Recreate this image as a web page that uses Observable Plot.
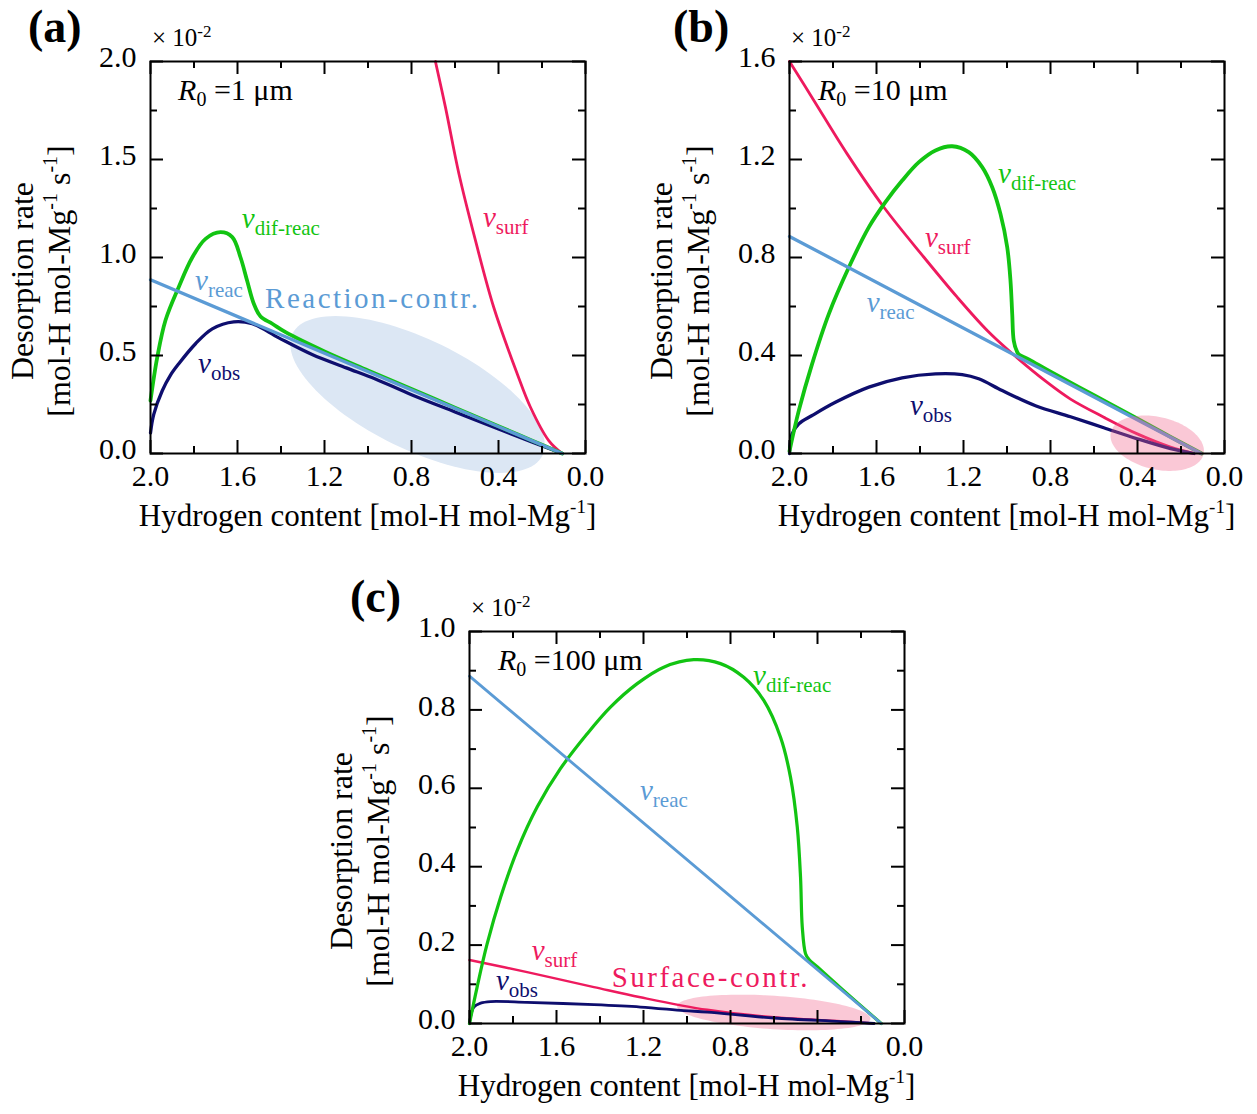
<!DOCTYPE html>
<html>
<head>
<meta charset="utf-8">
<script src="https://cdn.jsdelivr.net/npm/d3@7"></script>
<script src="https://cdn.jsdelivr.net/npm/@observablehq/plot@0.6"></script>
<style>
  body { margin: 0; background: #fff; }
  #wrap { position: relative; width: 1257px; height: 1114px; overflow: hidden; background: #fff; }
  .panel { position: absolute; }
</style>
</head>
<body>
<div id="wrap"></div>
<script>
// ---------------- DATA ----------------
// x: hydrogen content [mol-H/mol-Mg], y: desorption rate [x10^-2 mol-H/mol-Mg/s]
const xTicks = [2.0, 1.6, 1.2, 0.8, 0.4, 0.0];
const xMinor = [1.8, 1.4, 1.0, 0.6, 0.2];

// v_reac (same in all panels)
const reacX = [2.0, 0.107];
const reacY = [0.886, 0.0];

// Panel (a) R0 = 1 um
const aDifX = [2.0, 1.969, 1.931, 1.870, 1.808, 1.747, 1.678, 1.624, 1.586, 1.556, 1.525, 1.494, 1.440, 1.379, 1.2, 1.0, 0.8, 0.6, 0.4, 0.25, 0.107];
const aDifY = [0.27, 0.49, 0.68, 0.85, 1.00, 1.095, 1.129, 1.104, 1.00, 0.883, 0.764, 0.699, 0.662, 0.619, 0.521, 0.424, 0.329, 0.234, 0.139, 0.068, 0.0];
const aObsX = [2.0, 1.985, 1.946, 1.908, 1.870, 1.793, 1.716, 1.617, 1.532, 1.410, 1.257, 1.10, 0.966, 0.8, 0.6, 0.4, 0.25, 0.107];
const aObsY = [0.105, 0.20, 0.32, 0.40, 0.458, 0.56, 0.636, 0.672, 0.662, 0.590, 0.505, 0.437, 0.38, 0.30, 0.212, 0.125, 0.060, 0.0];
const aSurfX = [0.690, 0.644, 0.582, 0.506, 0.422, 0.314, 0.253, 0.169, 0.107];
const aSurfY = [2.0, 1.767, 1.427, 1.087, 0.746, 0.407, 0.236, 0.066, 0.0];
const aYTicks = [0.0, 0.5, 1.0, 1.5, 2.0];
const aYMinor = [0.25, 0.75, 1.25, 1.75];

// Panel (b) R0 = 10 um
const bDifX = [2.0, 1.957, 1.896, 1.819, 1.727, 1.635, 1.559, 1.482, 1.405, 1.329, 1.252, 1.176, 1.114, 1.068, 1.030, 0.999, 0.984, 0.976, 0.969, 0.955, 0.946, 0.9, 0.8, 0.6, 0.4, 0.25, 0.105];
const bDifY = [0.01, 0.176, 0.366, 0.570, 0.760, 0.924, 1.026, 1.114, 1.189, 1.237, 1.254, 1.230, 1.169, 1.087, 0.978, 0.842, 0.706, 0.570, 0.461, 0.418, 0.405, 0.384, 0.334, 0.238, 0.142, 0.069, 0.0];
const bObsX = [2.0, 1.988, 1.957, 1.896, 1.789, 1.635, 1.482, 1.329, 1.206, 1.130, 1.022, 0.869, 0.708, 0.555, 0.401, 0.248, 0.14];
const bObsY = [0.0, 0.080, 0.121, 0.155, 0.209, 0.271, 0.309, 0.325, 0.322, 0.305, 0.257, 0.195, 0.150, 0.105, 0.060, 0.020, 0.0];
const bSurfX = [2.0, 1.888, 1.735, 1.566, 1.382, 1.229, 1.091, 0.984, 0.815, 0.708, 0.555, 0.401, 0.248, 0.14];
const bSurfY = [1.60, 1.441, 1.223, 1.005, 0.801, 0.638, 0.502, 0.414, 0.290, 0.222, 0.148, 0.080, 0.026, 0.0];
const bYTicks = [0.0, 0.4, 0.8, 1.2, 1.6];
const bYMinor = [0.2, 0.6, 1.0, 1.4];

// Panel (c) R0 = 100 um
const cDifX = [2.0, 1.965, 1.919, 1.857, 1.781, 1.689, 1.582, 1.459, 1.352, 1.229, 1.107, 0.969, 0.846, 0.739, 0.647, 0.570, 0.524, 0.493, 0.478, 0.470, 0.455, 0.440, 0.40, 0.3, 0.107];
const cDifY = [0.0, 0.093, 0.203, 0.322, 0.441, 0.552, 0.650, 0.739, 0.807, 0.867, 0.909, 0.928, 0.918, 0.883, 0.824, 0.730, 0.628, 0.501, 0.373, 0.246, 0.178, 0.164, 0.144, 0.094, 0.0];
const cObsX = [2.0, 1.980, 1.949, 1.903, 1.735, 1.428, 1.214, 1.015, 0.907, 0.601, 0.294, 0.14];
const cObsY = [0.0, 0.042, 0.052, 0.056, 0.054, 0.048, 0.042, 0.033, 0.029, 0.014, 0.005, 0.0];
const cSurfX = [2.0, 1.735, 1.428, 1.214, 0.907, 0.601, 0.294, 0.14];
const cSurfY = [0.162, 0.131, 0.093, 0.067, 0.035, 0.016, 0.006, 0.0];
const cYTicks = [0.0, 0.2, 0.4, 0.6, 0.8, 1.0];
const cYMinor = [0.1, 0.3, 0.5, 0.7, 0.9];

// Highlight ellipses in data units: [centerX, centerY, semiAxis1 dX, dY, semiAxis2 dX, dY]
const ellipseA = [0.7724, 0.301, -0.5744, -0.3109, 0.1109, -0.2522];
const ellipseB = [0.3094, 0.042, -0.2131, -0.0444, 0.0275, -0.1041];
const ellipseC = [0.601, 0.0281, -0.4446, -0.0162, 0.0050, -0.0425];

// Curve labels (data position of the italic v, baseline)
const labelsA = [
  {key: "dif", x: 1.578, y: 1.148, sub: "dif-reac"},
  {key: "reac", x: 1.793, y: 0.832, sub: "reac"},
  {key: "obs", x: 1.779, y: 0.408, sub: "obs"},
  {key: "surf", x: 0.469, y: 1.153, sub: "surf"}
];
const labelsB = [
  {key: "dif", x: 1.039, y: 1.102, sub: "dif-reac"},
  {key: "surf", x: 1.375, y: 0.841, sub: "surf"},
  {key: "reac", x: 1.643, y: 0.576, sub: "reac"},
  {key: "obs", x: 1.444, y: 0.155, sub: "obs"}
];
const labelsC = [
  {key: "dif", x: 0.694, y: 0.862, sub: "dif-reac"},
  {key: "reac", x: 1.214, y: 0.569, sub: "reac"},
  {key: "surf", x: 1.712, y: 0.161, sub: "surf"},
  {key: "obs", x: 1.876, y: 0.084, sub: "obs"}
];
const radiusLabels = [
  {x: 1.871, y: 1.80, text: " =1 μm"},
  {x: 1.867, y: 1.441, text: " =10 μm"},
  {x: 1.867, y: 0.90, text: " =100 μm"}
];
const regimeA = {x: 1.471, y: 0.74, text: "Reaction-contr.", key: "reac"};
const regimeC = {x: 1.344, y: 0.093, text: "Surface-contr.", key: "surf"};

// ---------------- STYLE ----------------
const FONT = '"Liberation Serif", "Times New Roman", Times, serif';
const COLORS = {dif: "#12c412", obs: "#0e0e6e", reac: "#5b9bd5", surf: "#ee1a5e"};
const WIDTHS = {dif: 3.8, obs: 3.3, reac: 3.3, surf: 2.8};

const rows = (xs, ys) => xs.map((x, i) => ({x, y: ys[i]}));
function ellipsePts(e) {
  return d3.range(0, 361, 3).map(t => {
    const r = t * Math.PI / 180;
    return {x: e[0] + Math.cos(r) * e[2] + Math.sin(r) * e[4],
            y: e[1] + Math.cos(r) * e[3] + Math.sin(r) * e[5]};
  });
}

function drawPanel(cfg) {
  const fw = 435, fh = 392;
  const W = cfg.width, H = cfg.height, mL = cfg.mL, mT = 61;
  const mR = W - mL - fw, mB = H - mT - fh;
  const ell = Plot.line(ellipsePts(cfg.ellipse), {x: "x", y: "y", curve: "linear", stroke: "none",
    fill: cfg.ellipseFill, fillOpacity: cfg.ellipseOpacity});
  const line = (xs, ys, key, curve = "catmull-rom") =>
    Plot.line(rows(xs, ys), {x: "x", y: "y", curve, stroke: COLORS[key], strokeWidth: WIDTHS[key] * (cfg.lw || 1)});
  const marks = [];
  if (!cfg.ellipseOver) marks.push(ell);
  marks.push(line(cfg.surf[0], cfg.surf[1], "surf"));
  marks.push(line(cfg.obs[0], cfg.obs[1], "obs"));
  marks.push(line(cfg.dif[0], cfg.dif[1], "dif"));
  marks.push(line(reacX, reacY, "reac", "linear"));
  if (cfg.ellipseOver) marks.push(ell);
  const tk = {stroke: "black", strokeWidth: 2};
  marks.push(
    Plot.frame({stroke: "black", strokeWidth: 2}),
    Plot.tickX(xTicks, {x: d => d, insetTop: fh - 13, ...tk}),
    Plot.tickX(xTicks, {x: d => d, insetBottom: fh - 13, ...tk}),
    Plot.tickX(xMinor, {x: d => d, insetTop: fh - 7, ...tk}),
    Plot.tickX(xMinor, {x: d => d, insetBottom: fh - 7, ...tk}),
    Plot.tickY(cfg.yTicks, {y: d => d, insetRight: fw - 13, ...tk}),
    Plot.tickY(cfg.yTicks, {y: d => d, insetLeft: fw - 13, ...tk}),
    Plot.tickY(cfg.yMinor, {y: d => d, insetRight: fw - 7, ...tk}),
    Plot.tickY(cfg.yMinor, {y: d => d, insetLeft: fw - 7, ...tk}),
    Plot.axisX({ticks: xTicks, tickSize: 0, tickPadding: 11, tickFormat: d3.format(".1f"), fontSize: 30, label: null, fill: "black"}),
    Plot.axisY({ticks: cfg.yTicks, tickSize: 0, tickPadding: 14, dy: -4, tickFormat: d3.format(".1f"), fontSize: 30, label: null, fill: "black"})
  );
  const svg = Plot.plot({
    width: W, height: H, marginLeft: mL, marginRight: mR, marginTop: mT, marginBottom: mB,
    x: {domain: [2.0, 0.0]},
    y: {domain: cfg.yDomain},
    style: {fontFamily: FONT, fontSize: "30px", background: "transparent", overflow: "visible", color: "black"},
    marks
  });
  const sx = svg.scale("x"), sy = svg.scale("y");
  const g = d3.select(svg).append("g").attr("font-family", FONT).attr("text-anchor", "start");

  // curve labels
  for (const L of cfg.labels) {
    const t = g.append("text").attr("x", sx.apply(L.x)).attr("y", sy.apply(L.y))
      .attr("fill", COLORS[L.key]).attr("font-size", 29).attr("text-anchor", "start");
    t.append("tspan").attr("font-style", "italic").text("v");
    t.append("tspan").attr("font-size", 21).attr("dy", 7).text(L.sub);
  }
  // R0 label
  const R = cfg.radius;
  const rt = g.append("text").attr("x", sx.apply(R.x)).attr("y", sy.apply(R.y)).attr("fill", "black")
    .attr("font-size", 30).attr("text-anchor", "start");
  rt.append("tspan").attr("font-style", "italic").text("R");
  rt.append("tspan").attr("font-size", 20).attr("dy", 6).text("0");
  rt.append("tspan").attr("dy", -6).text(R.text);
  // regime label
  if (cfg.regime) {
    g.append("text").attr("x", sx.apply(cfg.regime.x)).attr("y", sy.apply(cfg.regime.y))
      .attr("fill", COLORS[cfg.regime.key]).attr("font-size", 29).attr("letter-spacing", 2.5)
      .attr("text-anchor", "start").text(cfg.regime.text);
  }
  // multiplier
  const m = g.append("text").attr("x", mL + 2).attr("y", mT - 15).attr("font-size", 25)
    .attr("fill", "black").attr("text-anchor", "start");
  m.append("tspan").text("× 10");
  m.append("tspan").attr("font-size", 17).attr("dy", -9).text("-2");
  // panel letter
  g.append("text").attr("x", cfg.letterX).attr("y", 42).attr("font-size", 46).attr("font-weight", "bold")
    .attr("fill", "black").attr("text-anchor", "start").text(cfg.letter);
  // x title
  const xt = g.append("text").attr("x", mL + fw / 2).attr("y", mT + fh + 73).attr("text-anchor", "middle")
    .attr("font-size", 31).attr("fill", "black");
  xt.append("tspan").text("Hydrogen content [mol-H mol-Mg");
  xt.append("tspan").attr("font-size", 19).attr("dy", -13).text("-1");
  xt.append("tspan").attr("dy", 13).text("]");
  // y title (two lines)
  const yc = mT + fh / 2 + 24;
  g.append("text").attr("transform", `translate(${mL - 117},${yc}) rotate(-90)`).attr("text-anchor", "middle")
    .attr("font-size", 32).attr("fill", "black").text("Desorption rate");
  const y2 = g.append("text").attr("transform", `translate(${mL - 80},${yc}) rotate(-90)`).attr("text-anchor", "middle")
    .attr("font-size", 32).attr("fill", "black");
  y2.append("tspan").text("[mol-H mol-Mg");
  y2.append("tspan").attr("font-size", 20).attr("dy", -13).text("-1");
  y2.append("tspan").attr("dy", 13).text(" s");
  y2.append("tspan").attr("font-size", 20).attr("dy", -13).text("-1");
  y2.append("tspan").attr("dy", 13).text("]");

  const div = document.createElement("div");
  div.className = "panel";
  div.style.left = cfg.left + "px";
  div.style.top = cfg.top + "px";
  div.appendChild(svg);
  document.getElementById("wrap").appendChild(div);
}

drawPanel({
  left: 0, top: 0, width: 620, height: 545, mL: 150, letter: "(a)", letterX: 28,
  yDomain: [0, 2.0], yTicks: aYTicks, yMinor: aYMinor,
  dif: [aDifX, aDifY], obs: [aObsX, aObsY], surf: [aSurfX, aSurfY],
  ellipse: ellipseA, ellipseFill: "#dce7f4", ellipseOpacity: 1, ellipseOver: false,
  labels: labelsA, radius: radiusLabels[0], regime: regimeA
});
drawPanel({
  left: 640, top: 0, width: 617, height: 545, mL: 149, letter: "(b)", letterX: 33,
  yDomain: [0, 1.6], yTicks: bYTicks, yMinor: bYMinor,
  dif: [bDifX, bDifY], obs: [bObsX, bObsY], surf: [bSurfX, bSurfY],
  ellipse: ellipseB, ellipseFill: "rgb(240,100,140)", ellipseOpacity: 0.355, ellipseOver: true,
  labels: labelsB, radius: radiusLabels[1]
});
drawPanel({
  left: 320, top: 570, width: 620, height: 544, mL: 149, letter: "(c)", letterX: 30, lw: 0.85,
  yDomain: [0, 1.0], yTicks: cYTicks, yMinor: cYMinor,
  dif: [cDifX, cDifY], obs: [cObsX, cObsY], surf: [cSurfX, cSurfY],
  ellipse: ellipseC, ellipseFill: "rgb(240,100,140)", ellipseOpacity: 0.355, ellipseOver: false,
  labels: labelsC, radius: radiusLabels[2], regime: regimeC
});
</script>
</body>
</html>
